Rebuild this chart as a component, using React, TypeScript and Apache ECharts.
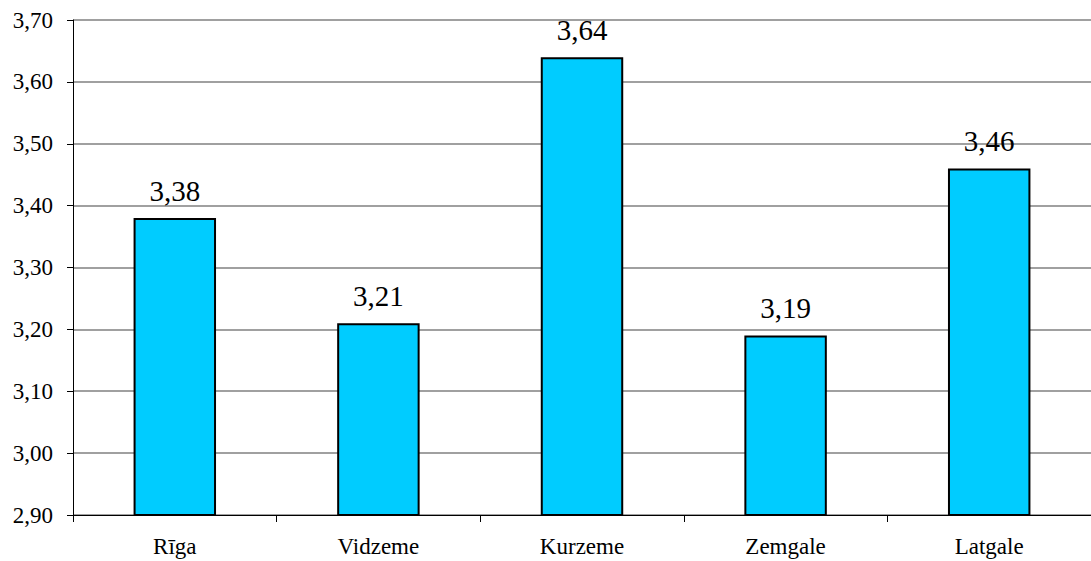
import React, { useEffect, useRef } from "react";
import * as echarts from "echarts";

const categories = ["Rīga", "Vidzeme", "Kurzeme", "Zemgale", "Latgale"];
const values = [3.38, 3.21, 3.64, 3.19, 3.46];
const yMin = 2.9;
const yMax = 3.7;
const yInterval = 0.1;

const FONT = "'Liberation Serif', 'Times New Roman', serif";
const fmt = (v: number) => v.toFixed(2).replace(".", ",");

export default function App() {
  const ref = useRef<HTMLDivElement>(null);
  useEffect(() => {
    document.body.style.margin = "0";
    const chart = echarts.init(ref.current!, undefined, { renderer: "svg" });
    chart.setOption({
      animation: false,
      backgroundColor: "#ffffff",
      textStyle: { fontFamily: FONT },
      grid: { left: 73, right: 0, top: 20, bottom: 46, containLabel: false },
      xAxis: {
        type: "category",
        data: categories,
        boundaryGap: true,
        axisLine: { lineStyle: { color: "#000", width: 1 } },
        axisTick: { show: true, length: 7, lineStyle: { color: "#000" } },
        axisLabel: {
          fontFamily: FONT,
          fontSize: 23,
          color: "#000",
          margin: 20,
        },
        splitLine: { show: false },
      },
      yAxis: {
        type: "value",
        min: yMin,
        max: yMax,
        interval: yInterval,
        axisLine: { show: true, lineStyle: { color: "#000", width: 1 } },
        axisTick: { show: true, length: 6, inside: false, lineStyle: { color: "#000" } },
        axisLabel: {
          fontFamily: FONT,
          fontSize: 23,
          color: "#000",
          margin: 20,
          formatter: (v: number) => fmt(v),
        },
        splitLine: { show: true, lineStyle: { color: "#808080", width: 1.5 } },
      },
      series: [
        {
          type: "bar",
          data: values,
          barWidth: "40.5%",
          itemStyle: { color: "#00CCFF", borderColor: "#000", borderWidth: 2 },
          label: {
            show: true,
            position: "top",
            distance: 13,
            fontFamily: FONT,
            fontSize: 29,
            color: "#000",
            formatter: (p: any) => fmt(p.value),
          },
        },
      ],
    });
    return () => chart.dispose();
  }, []);
  return <div ref={ref} style={{ width: 1091, height: 561 }} />;
}
